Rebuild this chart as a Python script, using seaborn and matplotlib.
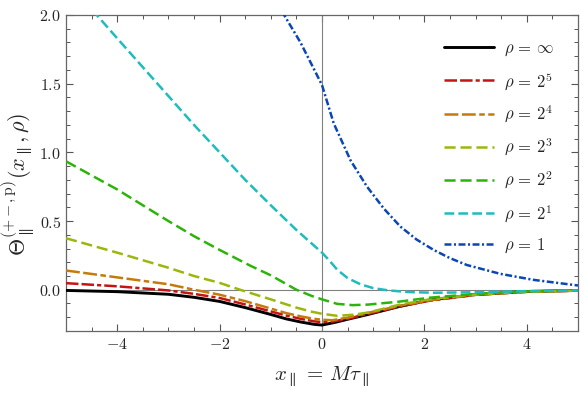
import matplotlib
matplotlib.use("Agg")
import matplotlib.pyplot as plt
from matplotlib.ticker import MultipleLocator, FuncFormatter
import seaborn as sns
import pandas as pd

# values
x_inf = [-5, -4, -3, -2.5, -2, -1.5, -1, -0.7, -0.4, -0.15, 0, 0.25, 0.5, 0.9, 1.5, 2.1, 3, 4, 5]
y_inf = [-0.005, -0.014, -0.033, -0.055, -0.085, -0.13, -0.18, -0.212, -0.236, -0.252, -0.257,
         -0.238, -0.215, -0.18, -0.123, -0.075, -0.035, -0.013, -0.005]

x_r5 = [-5, -4, -3, -2.5, -2, -1.5, -1, -0.7, -0.4, -0.15, 0, 0.2, 0.5, 0.9, 1.5, 2.1, 3, 4, 5]
y_r5 = [0.048, 0.025, -0.005, -0.03, -0.06, -0.107, -0.158, -0.188, -0.213, -0.23, -0.236,
        -0.232, -0.212, -0.176, -0.123, -0.08, -0.037, -0.015, -0.006]

x_r4 = x_r5
y_r4 = [0.14, 0.09, 0.04, 0.0, -0.036, -0.083, -0.137, -0.17, -0.195, -0.212, -0.218,
        -0.222, -0.203, -0.168, -0.118, -0.077, -0.035, -0.014, -0.006]

x_r3 = [-5, -4, -3, -2.5, -2, -1.6, -1, -0.5, -0.2, 0, 0.3, 0.6, 0.9, 1.5, 2.1, 3, 4, 5]
y_r3 = [0.375, 0.27, 0.16, 0.1, 0.05, 0.0, -0.07, -0.13, -0.16, -0.175, -0.19, -0.182,
        -0.166, -0.11, -0.07, -0.035, -0.015, -0.006]

x_r2 = [-5, -4, -3, -2.5, -2, -1.4, -1, -0.5, -0.2, 0, 0.3, 0.6, 0.9, 1.5, 2.1, 3, 4, 5]
y_r2 = [0.935, 0.73, 0.5, 0.39, 0.29, 0.175, 0.105, 0.0, -0.045, -0.07, -0.103, -0.112,
        -0.108, -0.087, -0.058, -0.03, -0.012, -0.005]

x_r1 = [-5, -4.4, -4, -3.5, -3, -2.5, -2, -1.5, -1, -0.5, 0, 0.15, 0.3, 0.5, 0.75, 1.0,
        1.3, 1.7, 2.2, 3, 4, 5]
y_r1 = [2.27, 2.0, 1.83, 1.62, 1.41, 1.2, 1.0, 0.8, 0.615, 0.435, 0.27, 0.21, 0.145, 0.085,
        0.04, 0.012, -0.005, -0.017, -0.022, -0.018, -0.01, -0.005]

x_r0 = [-1.0, -0.74, -0.42, 0, 0.23, 0.56, 0.88, 1.21, 1.53, 1.85, 2.18, 2.5, 2.83, 3.48,
        4.13, 5]
y_r0 = [2.17, 2.0, 1.8, 1.49, 1.21, 0.94, 0.75, 0.59, 0.46, 0.365, 0.29, 0.23, 0.18, 0.116,
        0.072, 0.031]

labels = [r"$\rho\,=\,\infty$", r"$\rho\,=\,2^5$", r"$\rho\,=\,2^4$", r"$\rho\,=\,2^3$",
          r"$\rho\,=\,2^2$", r"$\rho\,=\,2^1$", r"$\rho\,=\,1$"]
xs = [x_inf, x_r5, x_r4, x_r3, x_r2, x_r1, x_r0]
ys = [y_inf, y_r5, y_r4, y_r3, y_r2, y_r1, y_r0]

colors = ["#000000", "#c41414", "#c47a0c", "#9bb80a", "#2db40a", "#1ebcbc", "#0a46b4"]
styles = ["-", (0, (9, 2.2, 9, 2.2, 3, 2.2)), (0, (10, 2.5, 10, 2.5, 4, 2.5)), (0, (8, 3.5)),
          (0, (8, 3.5)), (0, (7, 3)), (0, (5, 1.8, 1.5, 1.8))]
widths = [2.1, 1.8, 1.8, 1.8, 1.8, 1.8, 1.8]

sns.set_style("ticks")
plt.rcParams["mathtext.fontset"] = "cm"
plt.rcParams["font.family"] = ["DejaVu Serif"]
plt.rcParams["lines.scale_dashes"] = False

fig, ax = plt.subplots(figsize=(5.81, 3.94), dpi=100)
fig.subplots_adjust(left=0.1136, right=0.9948, top=0.962, bottom=0.16)

ax.axhline(0, color="#808080", lw=0.8, zorder=1)
ax.axvline(0, color="#808080", lw=0.8, zorder=1)

for x, y, c, ls, lw, lab in zip(xs, ys, colors, styles, widths, labels):
    df = pd.DataFrame({"x": x, "y": y})
    sns.lineplot(data=df, x="x", y="y", color=c, linestyle=ls, linewidth=lw,
                 label=lab, ax=ax, zorder=3)

ax.set_xlim(-5, 5)
ax.set_ylim(-0.3, 2.0)
ax.xaxis.set_major_locator(MultipleLocator(2))
ax.xaxis.set_minor_locator(MultipleLocator(0.5))
ax.yaxis.set_major_locator(MultipleLocator(0.5))
ax.yaxis.set_minor_locator(MultipleLocator(0.1))
ax.xaxis.set_major_formatter(FuncFormatter(lambda v, p: r"$%d$" % round(v)))
ax.yaxis.set_major_formatter(FuncFormatter(lambda v, p: r"$%.1f$" % v))
ax.tick_params(which="both", direction="in", top=True, right=True,
               color="#555555", labelsize=11.5)
ax.tick_params(which="major", length=5, width=0.8)
ax.tick_params(which="minor", length=3, width=0.7)
for sp in ax.spines.values():
    sp.set_color("#666666")
    sp.set_linewidth(0.9)

ax.set_xlabel(r"$x_{\parallel}\,=\,M\tau_{\parallel}$", fontsize=15, labelpad=8)
ax.set_ylabel(r"$\Theta_{\parallel}^{(+-,\mathrm{p})}(x_{\parallel},\rho)$", fontsize=16)
ax.yaxis.set_label_coords(-0.058, 0.465)

ax.legend(loc="upper right", frameon=False, fontsize=12, handlelength=3.0,
          labelspacing=0.72, handletextpad=0.6, borderaxespad=0.4,
          bbox_to_anchor=(0.98, 0.965))

fig.savefig("out.png", dpi=100)
